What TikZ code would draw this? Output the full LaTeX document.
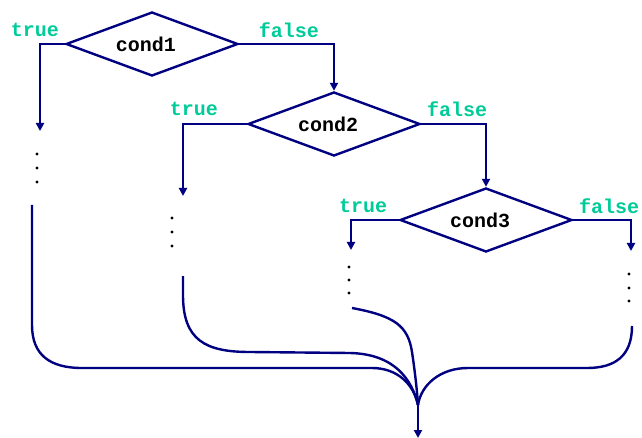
\documentclass[tikz,border=0pt]{standalone}
\usepackage{fontspec}
\setmonofont{Liberation Mono}
\usetikzlibrary{shapes.geometric,arrows.meta}
\definecolor{navy}{RGB}{0,0,128}
\definecolor{lbl}{RGB}{0,204,153}
\tikzset{
  cond/.style={diamond,draw=navy,line width=2.4pt,minimum width=172pt,minimum height=64pt,inner sep=0pt},
  condtxt/.style={font=\ttfamily\bfseries\fontsize{20}{22}\selectfont,text=black,inner sep=0pt},
  lab/.style={font=\ttfamily\bfseries\fontsize{20}{22}\selectfont,text=lbl,inner sep=0pt},
  flow/.style={draw=navy,line width=2.4pt},
  arr/.style={flow,-{Triangle[width=8pt,length=8pt]}},
  vdot/.style={circle,fill=black,inner sep=0pt,minimum size=3.4pt}
}
\begin{document}
\begin{tikzpicture}[x=1pt,y=-1pt]
\useasboundingbox (0,0) rectangle (642,438);
% decisions
\node[cond] (d1) at (152,44) {};
\node[cond] (d2) at (334,124) {};
\node[cond] (d3) at (486,220) {};
\node[condtxt] (c1) at (146,44) {cond1};
\node[condtxt] (c2) at (328,124) {cond2};
\node[condtxt] (c3) at (480,220) {cond3};
% branch ends
\coordinate (t1) at (40,131);
\coordinate (t2) at (183,196);
\coordinate (t3) at (351,250);
\coordinate (t4) at (631,251);
\draw[arr] (d1.west) -| (t1);
\draw[arr] (d1.east) -| (d2.north);
\draw[arr] (d2.west) -| (t2);
\draw[arr] (d2.east) -| (d3.north);
\draw[arr] (d3.west) -| (t3);
\draw[arr] (d3.east) -| (t4);
% labels
\node[lab] (l1) at (35,30) {true};
\node[lab] (l2) at (289,30) {false};
\node[lab] (l3) at (194,109) {true};
\node[lab] (l4) at (457,109) {false};
\node[lab] (l5) at (363,206) {true};
\node[lab] (l6) at (609,206) {false};
% dots
\foreach \x/\y [count=\i] in {37/154,37/168,37/182,172/218,172/232,172/246,349/267,349/280,349/293,629/274,629/288,629/301}
  \node[vdot] (dot\i) at (\x,\y) {};
% merging lines
\coordinate (b1) at (32,205);
\coordinate (b2) at (183,276);
\coordinate (b3) at (352,308);
\coordinate (b4) at (632,326);
\coordinate (j) at (418,405);
\coordinate (e) at (418,438);
\draw[flow] (b1) -- (32,325) .. controls (32,355) and (50,368) .. (82,368)
  -- (372,368) .. controls (398,368) and (414,385) .. (j);
\draw[flow] (b2) -- (183,295) .. controls (183,340) and (205,352) .. (250,352)
  -- (350,353) .. controls (395,354) and (412,380) .. (j);
\draw[flow] (b3) .. controls (395,316) and (408,326) .. (412,352) .. controls (415,372) and (417,390) .. (j);
\draw[flow] (b4) .. controls (632,356) and (615,368) .. (587,368)
  -- (468,368) .. controls (440,368) and (421,385) .. (j);
\draw[arr] (j) -- (e);
\end{tikzpicture}
\end{document}
